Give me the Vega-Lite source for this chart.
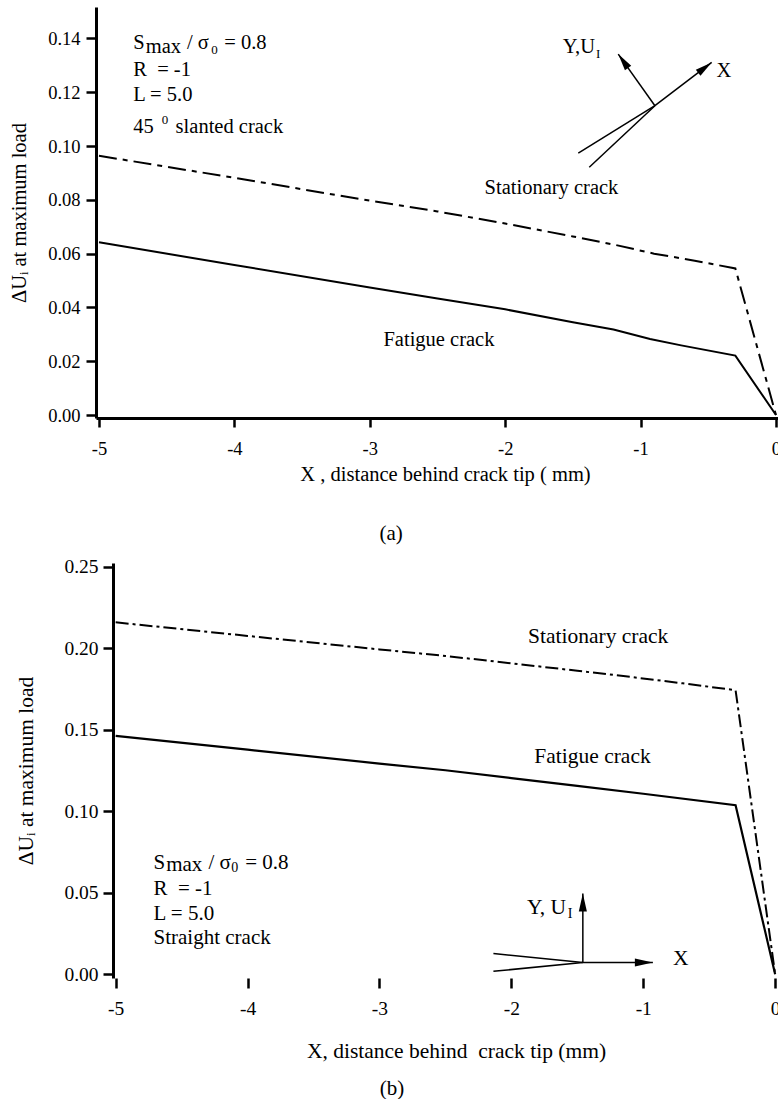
{
  "$schema": "https://vega.github.io/schema/vega-lite/v6.json",
  "padding": {"left": 9, "top": 7, "right": -3, "bottom": 0},
  "spacing": 12,
  "background": "white",
  "datasets": {
    "la": [
      {"s": "st", "x": -5.0, "y": 0.0964}, {"s": "st", "x": -4, "y": 0.0882}, {"s": "st", "x": -3, "y": 0.0797},
      {"s": "st", "x": -2.5, "y": 0.0757}, {"s": "st", "x": -2, "y": 0.0712}, {"s": "st", "x": -1.5, "y": 0.0664},
      {"s": "st", "x": -1.2, "y": 0.0634}, {"s": "st", "x": -0.9, "y": 0.06}, {"s": "st", "x": -0.6, "y": 0.0574},
      {"s": "st", "x": -0.3, "y": 0.0545}, {"s": "st", "x": 0, "y": 0},
      {"s": "fa", "x": -5.0, "y": 0.0642}, {"s": "fa", "x": -4, "y": 0.0558}, {"s": "fa", "x": -3, "y": 0.0474},
      {"s": "fa", "x": -2.5, "y": 0.0433}, {"s": "fa", "x": -2, "y": 0.0393}, {"s": "fa", "x": -1.5, "y": 0.0345},
      {"s": "fa", "x": -1.2, "y": 0.0318}, {"s": "fa", "x": -0.93, "y": 0.0283}, {"s": "fa", "x": -0.7, "y": 0.0259},
      {"s": "fa", "x": -0.3, "y": 0.0221}, {"s": "fa", "x": 0, "y": 0}
    ],
    "lb": [
      {"s": "st", "x": -5.0, "y": 0.2158}, {"s": "st", "x": -4, "y": 0.2075}, {"s": "st", "x": -3, "y": 0.1992},
      {"s": "st", "x": -2.5, "y": 0.1952}, {"s": "st", "x": -2, "y": 0.1907}, {"s": "st", "x": -1.5, "y": 0.1861},
      {"s": "st", "x": -1.1, "y": 0.1824}, {"s": "st", "x": -0.7, "y": 0.1784}, {"s": "st", "x": -0.3, "y": 0.1742},
      {"s": "st", "x": 0, "y": 0},
      {"s": "fa", "x": -5.0, "y": 0.1462}, {"s": "fa", "x": -4, "y": 0.1377}, {"s": "fa", "x": -3, "y": 0.1292},
      {"s": "fa", "x": -2.5, "y": 0.1251}, {"s": "fa", "x": -2, "y": 0.1203}, {"s": "fa", "x": -1.5, "y": 0.1155},
      {"s": "fa", "x": -1.0, "y": 0.1107}, {"s": "fa", "x": -0.3, "y": 0.1037}, {"s": "fa", "x": 0, "y": 0}
    ],
    "da": [
      {"x": -0.894, "y": 0.115, "x2": -1.165, "y2": 0.1342},
      {"x": -0.894, "y": 0.115, "x2": -0.475, "y2": 0.1311},
      {"x": -0.894, "y": 0.115, "x2": -1.46, "y2": 0.0974},
      {"x": -0.894, "y": 0.115, "x2": -1.379, "y2": 0.0921}
    ],
    "db": [
      {"x": -1.458, "y": 0.0072, "x2": -1.458, "y2": 0.0495},
      {"x": -1.458, "y": 0.0072, "x2": -0.927, "y2": 0.0072},
      {"x": -1.458, "y": 0.0072, "x2": -2.136, "y2": 0.0127},
      {"x": -1.458, "y": 0.0072, "x2": -2.136, "y2": 0.0018}
    ],
    "ha": [{"k": "y", "x": -1.165, "y": 0.1342}, {"k": "x", "x": -0.475, "y": 0.1311}],
    "hb": [{"k": "y", "x": -1.458, "y": 0.0495}, {"k": "x", "x": -0.927, "y": 0.0072}],
    "ta": [
      {"t": "S", "x": -4.747, "y": 0.13606, "r": "m"},
      {"t": "max", "x": -4.655, "y": 0.13476, "r": "m"},
      {"t": "/ σ", "x": -4.35, "y": 0.13606, "r": "m"},
      {"t": "0", "x": -4.17, "y": 0.1342, "r": "s"},
      {"t": "= 0.8", "x": -4.075, "y": 0.13606, "r": "m"},
      {"t": "R\u00a0 = -1", "x": -4.747, "y": 0.12591, "r": "m"},
      {"t": "L = 5.0", "x": -4.747, "y": 0.11684, "r": "m"},
      {"t": "45", "x": -4.747, "y": 0.10483, "r": "m"},
      {"t": "0", "x": -4.537, "y": 0.10818, "r": "s"},
      {"t": "slanted crack", "x": -4.434, "y": 0.10483, "r": "m"},
      {"t": "Stationary crack", "x": -1.658, "y": 0.08216, "r": "c"},
      {"t": "Fatigue crack", "x": -2.489, "y": 0.02576, "r": "c"},
      {"t": "Y,U", "x": -1.337, "y": 0.13457, "r": "rr"},
      {"t": "I", "x": -1.329, "y": 0.13271, "r": "s"},
      {"t": "X", "x": -0.384, "y": 0.12554, "r": "c"}
    ],
    "tb": [
      {"t": "S", "x": -4.713, "y": 0.06485, "r": "m"},
      {"t": "max", "x": -4.617, "y": 0.06337, "r": "m"},
      {"t": "/ σ", "x": -4.296, "y": 0.06485, "r": "m"},
      {"t": "0", "x": -4.124, "y": 0.06276, "r": "s"},
      {"t": "= 0.8", "x": -4.018, "y": 0.06485, "r": "m"},
      {"t": "R\u00a0 = -1", "x": -4.713, "y": 0.04847, "r": "m"},
      {"t": "L = 5.0", "x": -4.713, "y": 0.03356, "r": "m"},
      {"t": "Straight crack", "x": -4.713, "y": 0.0184, "r": "m"},
      {"t": "Stationary crack", "x": -1.342, "y": 0.2029, "r": "c"},
      {"t": "Fatigue crack", "x": -1.385, "y": 0.1296, "r": "c"},
      {"t": "Y, U", "x": -1.585, "y": 0.03724, "r": "rr"},
      {"t": "I", "x": -1.573, "y": 0.03479, "r": "s"},
      {"t": "X", "x": -0.716, "y": 0.00552, "r": "c"}
    ]
  },
  "vconcat": [
    {
      "width": 682,
      "height": 411,
      "title": {"text": "(a)", "orient": "bottom", "frame": "bounds", "anchor": "middle", "offset": 38, "dx": -4, "fontSize": 21, "font": "Liberation Serif", "fontWeight": "normal", "color": "black"},
      "encoding": {
        "x": {"field": "x", "type": "quantitative",
          "scale": {"domain": [-5.022, 0.015], "nice": false, "zero": false},
          "axis": {"values": [-5, -4, -3, -2, -1, 0], "labelExpr": "'' + datum.value", "labelFlush": false,
            "title": "X , distance behind crack tip ( mm)", "titleX": 349, "tickSize": 9, "labelPadding": 12, "titlePadding": 7}},
        "y": {"field": "y", "type": "quantitative",
          "scale": {"domain": [-0.0011, 0.1517], "nice": false, "zero": false},
          "axis": {"values": [0, 0.02, 0.04, 0.06, 0.08, 0.1, 0.12, 0.14], "format": ".2f",
            "title": "ΔUᵢ at maximum load", "tickSize": 10, "labelPadding": 6, "titlePadding": 18}}
      },
      "layer": [
        {"data": {"name": "la"}, "transform": [{"filter": "datum.s == 'st'"}],
          "mark": {"type": "line", "color": "black", "strokeWidth": 2, "strokeDash": [18, 6, 5, 6]}},
        {"data": {"name": "la"}, "transform": [{"filter": "datum.s == 'fa'"}],
          "mark": {"type": "line", "color": "black", "strokeWidth": 2}},
        {"data": {"values": [{}]},
          "mark": {"type": "rule", "color": "black", "strokeWidth": 3},
          "encoding": {"x": {"datum": -5.022, "type": "quantitative"}, "x2": {"datum": 0.015}, "y": {"datum": 0.1517, "type": "quantitative"}}},
        {"data": {"name": "da"},
          "mark": {"type": "rule", "color": "black", "strokeWidth": 1.5},
          "encoding": {"x2": {"field": "x2"}, "y2": {"field": "y2"}}},
        {"data": {"name": "ha"}, "transform": [{"filter": "datum.k == 'y'"}],
          "mark": {"type": "point", "shape": "M0,0L0.45,2L-0.45,2Z", "size": 289, "angle": 324.6, "filled": true, "opacity": 1, "color": "black", "strokeWidth": 0}},
        {"data": {"name": "ha"}, "transform": [{"filter": "datum.k == 'x'"}],
          "mark": {"type": "point", "shape": "M0,0L0.45,2L-0.45,2Z", "size": 289, "angle": 52.6, "filled": true, "opacity": 1, "color": "black", "strokeWidth": 0}},
        {"data": {"name": "ta"}, "transform": [{"filter": "datum.r == 'm'"}],
          "mark": {"type": "text", "align": "left", "baseline": "alphabetic", "font": "Liberation Serif", "fontSize": 20.5, "color": "black"},
          "encoding": {"text": {"field": "t"}}},
        {"data": {"name": "ta"}, "transform": [{"filter": "datum.r == 's'"}],
          "mark": {"type": "text", "align": "left", "baseline": "alphabetic", "font": "Liberation Serif", "fontSize": 13, "color": "black"},
          "encoding": {"text": {"field": "t"}}},
        {"data": {"name": "ta"}, "transform": [{"filter": "datum.r == 'c'"}],
          "mark": {"type": "text", "align": "center", "baseline": "alphabetic", "font": "Liberation Serif", "fontSize": 20.5, "color": "black"},
          "encoding": {"text": {"field": "t"}}},
        {"data": {"name": "ta"}, "transform": [{"filter": "datum.r == 'rr'"}],
          "mark": {"type": "text", "align": "right", "baseline": "alphabetic", "font": "Liberation Serif", "fontSize": 20.5, "color": "black"},
          "encoding": {"text": {"field": "t"}}}
      ]
    },
    {
      "width": 681,
      "height": 415,
      "title": {"text": "(b)", "orient": "bottom", "frame": "bounds", "anchor": "middle", "offset": 16, "dx": -6, "fontSize": 21, "font": "Liberation Serif", "fontWeight": "normal", "color": "black"},
      "encoding": {
        "x": {"field": "x", "type": "quantitative",
          "scale": {"domain": [-5.149, 0.014], "nice": false, "zero": false},
          "axis": {"values": [-5, -4, -3, -2, -1, 0], "labelExpr": "'' + datum.value", "labelFlush": false, "domain": false,
            "title": "X, distance behind\u00a0 crack tip (mm)", "titleX": 360, "tickSize": 10, "labelPadding": 11.5, "titlePadding": 22,
            "labelFontSize": 19.5, "titleFontSize": 21.5}},
        "y": {"field": "y", "type": "quantitative",
          "scale": {"domain": [-0.0023, 0.2522], "nice": false, "zero": false},
          "axis": {"values": [0, 0.05, 0.1, 0.15, 0.2, 0.25], "format": ".2f", "offset": -17,
            "title": "ΔUᵢ at maximum load", "tickSize": 10, "labelPadding": 5, "titlePadding": 26,
            "labelFontSize": 19.5, "titleFontSize": 21.5}}
      },
      "layer": [
        {"data": {"name": "lb"}, "transform": [{"filter": "datum.s == 'st'"}],
          "mark": {"type": "line", "color": "black", "strokeWidth": 2, "strokeDash": [13, 4, 3, 4]}},
        {"data": {"name": "lb"}, "transform": [{"filter": "datum.s == 'fa'"}],
          "mark": {"type": "line", "color": "black", "strokeWidth": 2.2}},
        {"data": {"values": [{}]},
          "mark": {"type": "rule", "color": "black", "strokeWidth": 3},
          "encoding": {"x": {"datum": -5.02, "type": "quantitative"}, "x2": {"datum": 0.014}, "y": {"datum": 0.2522, "type": "quantitative"}}},
        {"data": {"values": [{}]},
          "mark": {"type": "rule", "color": "black", "strokeWidth": 3},
          "encoding": {"x": {"datum": -5.02, "type": "quantitative"}, "x2": {"datum": 0.014}, "y": {"datum": -0.0023, "type": "quantitative"}}},
        {"data": {"values": [{}]},
          "mark": {"type": "rule", "color": "#999999", "strokeWidth": 1},
          "encoding": {"x": {"datum": 0.014, "type": "quantitative"}, "y": {"datum": -0.0023, "type": "quantitative"}, "y2": {"datum": 0.2522}}},
        {"data": {"name": "db"},
          "mark": {"type": "rule", "color": "black", "strokeWidth": 1.5},
          "encoding": {"x2": {"field": "x2"}, "y2": {"field": "y2"}}},
        {"data": {"name": "hb"}, "transform": [{"filter": "datum.k == 'y'"}],
          "mark": {"type": "point", "shape": "M0,0L0.45,2L-0.45,2Z", "size": 324, "angle": 0, "filled": true, "opacity": 1, "color": "black", "strokeWidth": 0}},
        {"data": {"name": "hb"}, "transform": [{"filter": "datum.k == 'x'"}],
          "mark": {"type": "point", "shape": "M0,0L0.45,2L-0.45,2Z", "size": 324, "angle": 90, "filled": true, "opacity": 1, "color": "black", "strokeWidth": 0}},
        {"data": {"name": "tb"}, "transform": [{"filter": "datum.r == 'm'"}],
          "mark": {"type": "text", "align": "left", "baseline": "alphabetic", "font": "Liberation Serif", "fontSize": 21, "color": "black"},
          "encoding": {"text": {"field": "t"}}},
        {"data": {"name": "tb"}, "transform": [{"filter": "datum.r == 's'"}],
          "mark": {"type": "text", "align": "left", "baseline": "alphabetic", "font": "Liberation Serif", "fontSize": 14, "color": "black"},
          "encoding": {"text": {"field": "t"}}},
        {"data": {"name": "tb"}, "transform": [{"filter": "datum.r == 'c'"}],
          "mark": {"type": "text", "align": "center", "baseline": "alphabetic", "font": "Liberation Serif", "fontSize": 21.5, "color": "black"},
          "encoding": {"text": {"field": "t"}}},
        {"data": {"name": "tb"}, "transform": [{"filter": "datum.r == 'rr'"}],
          "mark": {"type": "text", "align": "right", "baseline": "alphabetic", "font": "Liberation Serif", "fontSize": 21.5, "color": "black"},
          "encoding": {"text": {"field": "t"}}}
      ]
    }
  ],
  "config": {
    "font": "Liberation Serif",
    "view": {"stroke": null},
    "axis": {"domainColor": "black", "domainWidth": 3, "tickColor": "black", "tickWidth": 2.5, "grid": false,
      "labelColor": "black", "titleColor": "black", "labelFont": "Liberation Serif", "titleFont": "Liberation Serif",
      "titleFontWeight": "normal", "labelFontSize": 18.5, "titleFontSize": 20.5}
  }
}
